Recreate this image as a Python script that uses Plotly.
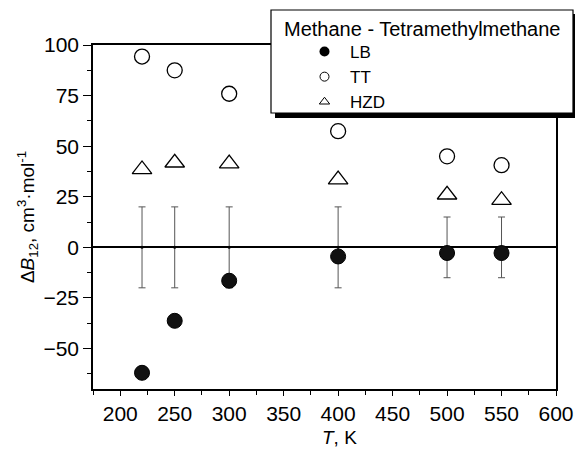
import plotly.graph_objects as go

T = [220, 250, 300, 400, 500, 550]
LB = [-62, -36.3, -16.5, -4.5, -2.8, -2.8]
TT = [94.3, 87.5, 75.9, 57.4, 45, 40.6]
HZD = [38.5, 41.8, 41.4, 33.5, 26, 23.3]
ERR_CENTER = [0, 0, 0, 0, 0, 0]
ERR = [20, 20, 20, 20, 15, 15]
LEGEND_TITLE = "Methane - Tetramethylmethane"
X_TITLE = "<i>T</i>, K"
Y_TITLE = "Δ<i>B</i><sub>12</sub>, cm<sup>3</sup>·mol<sup>-1</sup>"

W, H = 575, 451
L, R, TOP, B = 93, 19, 45, 62
pw, ph = W - L - R, H - TOP - B

def px2x(p):
    return (p - L) / pw

def py2y(p):
    return (H - B - p) / ph

FONT = "Liberation Sans, Arial, sans-serif"

fig = go.Figure()

fig.add_trace(go.Scatter(
    x=T, y=ERR_CENTER, mode="markers",
    marker=dict(size=3, color="black"),
    error_y=dict(type="data", array=ERR, visible=True, color="#555555", thickness=1, width=3.5),
    showlegend=False, hoverinfo="skip"))

fig.add_trace(go.Scatter(x=T, y=LB, mode="markers",
    marker=dict(symbol="circle", size=15, color="#111111", line=dict(width=1, color="black")),
    showlegend=False))
fig.add_trace(go.Scatter(x=T, y=TT, mode="markers",
    marker=dict(symbol="circle-open", size=15, color="black", line=dict(width=1.3)),
    showlegend=False))
fig.add_trace(go.Scatter(x=T, y=HZD, mode="markers",
    marker=dict(symbol="triangle-up-open", size=17, color="black", line=dict(width=1.3)),
    showlegend=False))

# legend-only entries (small markers as in the reference legend)
fig.add_trace(go.Scatter(x=[None], y=[None], mode="markers", name="LB",
    marker=dict(symbol="circle", size=10, color="black")))
fig.add_trace(go.Scatter(x=[None], y=[None], mode="markers", name="TT",
    marker=dict(symbol="circle-open", size=9, color="black", line=dict(width=1))))
fig.add_trace(go.Scatter(x=[None], y=[None], mode="markers", name="HZD",
    marker=dict(symbol="triangle-up-open", size=9, color="black", line=dict(width=1))))

# legend box with shadow
fig.add_shape(type="rect", xref="paper", yref="paper", layer="above",
    x0=px2x(275), x1=px2x(577), y0=py2y(118), y1=py2y(14),
    fillcolor="black", line=dict(width=0))
fig.add_shape(type="rect", xref="paper", yref="paper", layer="above",
    x0=px2x(271), x1=px2x(573), y0=py2y(113), y1=py2y(10),
    fillcolor="white", line=dict(width=1.2, color="black"))

fig.add_annotation(text=LEGEND_TITLE, xref="paper", yref="paper",
    x=px2x(282), y=py2y(29), xanchor="left", yanchor="middle", showarrow=False,
    font=dict(size=20, color="black"))

fig.add_annotation(text=X_TITLE, xref="paper", yref="paper",
    x=px2x(339), y=py2y(437), xanchor="center", yanchor="middle", showarrow=False,
    font=dict(size=19, color="black"))

fig.update_layout(
    width=W, height=H,
    margin=dict(l=L, r=R, t=TOP, b=B, autoexpand=False),
    paper_bgcolor="white", plot_bgcolor="white",
    font=dict(family=FONT, size=21, color="black"),
    legend=dict(
        x=px2x(299), y=py2y(34), xanchor="left", yanchor="top",
        bgcolor="rgba(0,0,0,0)", borderwidth=0,
        font=dict(size=17),
        itemwidth=41, tracegroupgap=0,
    ),
    xaxis=dict(
        range=[175, 600], tickvals=[200, 250, 300, 350, 400, 450, 500, 550, 600],
        ticks="outside", ticklen=5, tickwidth=1.3, tickcolor="black",
        minor=dict(tickvals=[175, 225, 275, 325, 375, 425, 475, 525, 575], ticks="outside", ticklen=4, tickwidth=1.3, tickcolor="black"),
        showline=True, linecolor="black", linewidth=1.5, mirror=True,
        showgrid=False, zeroline=False,
    ),
    yaxis=dict(
        range=[-70, 100], tickvals=[-50, -25, 0, 25, 50, 75, 100],
        ticks="outside", ticklen=8, tickwidth=1.3, tickcolor="black",
        minor=dict(tickvals=[-62.5, -37.5, -12.5, 12.5, 37.5, 62.5, 87.5], ticks="outside", ticklen=4, tickwidth=1.3, tickcolor="black"),
        showline=True, linecolor="black", linewidth=1.5, mirror=True,
        showgrid=False, zeroline=True, zerolinecolor="black", zerolinewidth=1.5,
        title=dict(text=Y_TITLE, font=dict(size=19), standoff=4),
    ),
)

fig.write_html("out.html")
